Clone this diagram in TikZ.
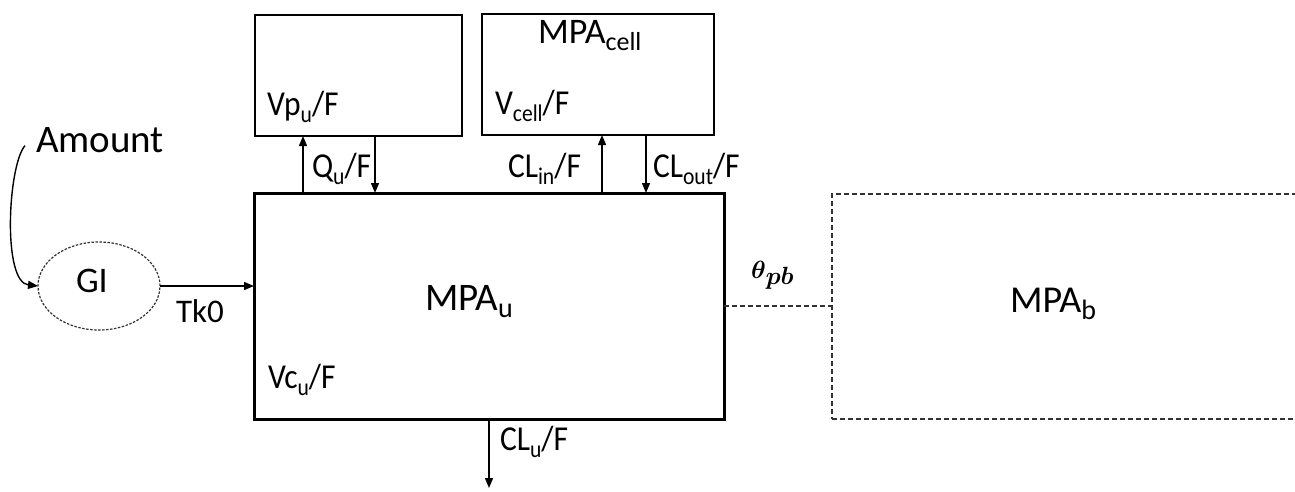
\documentclass[tikz,border=0pt]{standalone}
\usepackage{fontspec}
\usepackage{bm}
\setmainfont{Carlito}
\newfontfamily\narrowfont[FakeStretch=0.9]{Carlito}
\usetikzlibrary{arrows.meta,shapes.geometric}
\newcommand\sbs[1]{\raisebox{-7pt}{\fontsize{26}{28}\selectfont #1}}
\newcommand\sbm[1]{\raisebox{-7pt}{\fontsize{24}{26}\selectfont #1}}
\newcommand\sbl[1]{\raisebox{-7pt}{\fontsize{28}{30}\selectfont #1}}
\begin{document}
\begin{tikzpicture}[x=1pt,y=-1pt,
  every node/.style={inner sep=0pt,outer sep=0pt},
  txt/.style={anchor=base west,font=\fontsize{36}{40}\selectfont},
  lbl/.style={anchor=base west,font=\narrowfont\fontsize{35}{38}\selectfont},
  big/.style={anchor=base west,font=\fontsize{39}{42}\selectfont},
  box/.style={draw,line width=1.6pt,rectangle},
  mainbox/.style={draw,line width=3pt,rectangle},
  dbox/.style={draw=black!80,line width=1.4pt,rectangle,dash pattern=on 5pt off 3pt},
  arr/.style={line width=1.4pt,-{Triangle[length=10pt,width=8pt]}},
  dline/.style={draw=black!80,line width=1.4pt,dash pattern=on 5pt off 3pt}]
\useasboundingbox (0,0) rectangle (1295,491);
% boxes
\node[box,minimum width=207pt,minimum height=121pt] (vp) at (358.5,75.5) {};
\node[box,minimum width=232pt,minimum height=121pt] (cell) at (598,74.5) {};
\node[mainbox,minimum width=470pt,minimum height=226pt] (main) at (489,306) {};
\node[dbox,minimum width=480pt,minimum height=225pt] (mpab) at (1072,306.5) {};
\node[draw=black!80,line width=1.2pt,dash pattern=on 2.5pt off 1.5pt,ellipse,minimum width=122pt,minimum height=88pt] (gi) at (99,286) {};
% texts
\node[big] (amt) at (36,152) {Amount};
\node[txt] (gitxt) at (76,292) {GI};
\node[txt,font=\fontsize{33}{36}\selectfont] (tk) at (176,322) {Tk0};
\node[lbl] (vpt) at (267,115) {Vp\sbm{u}/F};
\node[lbl] (vct) at (495,114) {V\sbm{cell}/F};
\node[txt] (mpac) at (538,43) {MPA\sbs{cell}};
\node[lbl] (qu) at (312,177) {Q\sbm{u}/F};
\node[lbl] (clin) at (508,177) {CL\sbm{in}/F};
\node[lbl] (clout) at (653,177) {CL\sbm{out}/F};
\node[big] (mpau) at (425,310) {MPA\sbl{u}};
\node[lbl] (vcu) at (268,388) {Vc\sbm{u}/F};
\node[lbl] (clu) at (500,450) {CL\sbm{u}/F};
\node[txt,font=\fontsize{38}{42}\selectfont] (mpabt) at (1010,312) {MPA\sbl{b}};
\node[anchor=base west,font=\fontsize{36}{40}\selectfont] (theta) at (751,278) {$\bm{\theta}$\raisebox{-6pt}{\fontsize{28}{30}\selectfont$\bm{pb}$}};
% helper coordinates
\coordinate (xq1) at (303,0);
\coordinate (xq2) at (375,0);
\coordinate (xin) at (602,0);
\coordinate (xout) at (646,0);
\coordinate (cluend) at (489,488);
% connectors
\draw[arr] (xq1 |- main.north) -- (xq1 |- vp.south);
\draw[arr] (xq2 |- vp.south) -- (xq2 |- main.north);
\draw[arr] (xin |- main.north) -- (xin |- cell.south);
\draw[arr] (xout |- cell.south) -- (xout |- main.north);
\draw[arr] (main.south) -- (cluend);
\draw[arr] (gi.east) -- (main.west |- gi.east);
\draw[dline] (main.east) -- (mpab.west |- main.east);
\draw[arr] ([xshift=-11pt,yshift=-6pt]amt.west) .. controls (8,165) and (2,282) .. (gi.west);
\end{tikzpicture}
\end{document}
